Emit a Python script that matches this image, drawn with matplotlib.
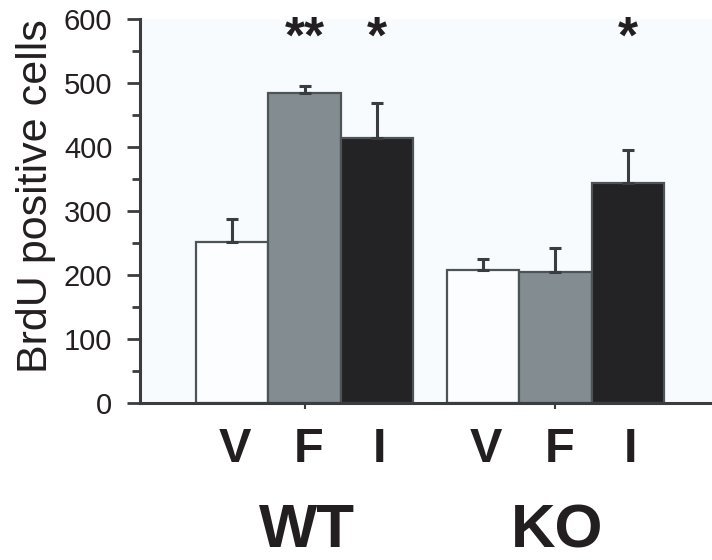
import matplotlib
matplotlib.use("Agg")
import matplotlib.pyplot as plt
import matplotlib.transforms as mtransforms
from matplotlib.ticker import MultipleLocator

plt.rcParams['font.family'] = ['Liberation Sans', 'DejaVu Sans']

groups = ["WT", "KO"]
treatments = ["V", "F", "I"]
values = {"WT": [251, 484, 414], "KO": [208, 205, 343]}
errors = {"WT": [36, 12, 55], "KO": [17, 37, 53]}
stars = {"WT": ["", "**", "*"], "KO": ["", "", "*"]}
colors = ["#fbfdfe", "#838c90", "#232225"]
yticks = [0, 100, 200, 300, 400, 500, 600]

bg = "#f7fbfd"
edge = "#4d5457"
axc = "#3a3d3f"
txt = "#231f20"

W, H = 712, 560
fig = plt.figure(figsize=(W/100, H/100), dpi=100, facecolor="white")
ax = fig.add_axes([140/W, (H-403)/H, 1 - 140/W, (403-19)/H])
ax.set_facecolor(bg)
blend = mtransforms.blended_transform_factory(ax.transData, fig.transFigure)

def fy(py):
    return 1 - py / H

group_offset = [0.0, 3.46]
label_shift = [0.04, 0.06, 0.03]
for g, off in zip(groups, group_offset):
    xs = [off + i for i in range(3)]
    ax.bar(xs, values[g], width=1.0, color=colors, edgecolor=edge, linewidth=1.6, zorder=2)
    ax.errorbar(xs, values[g], yerr=[[0]*3, errors[g]], fmt="none", ecolor=axc,
                elinewidth=2.2, capsize=4.5, capthick=2.2, zorder=3)
    for x, t, sh in zip(xs, treatments, label_shift):
        ax.text(x + sh, fy(461.5), t, transform=blend,
                ha="center", va="baseline", fontsize=35, fontweight="bold", color=txt)
    for x, s in zip(xs, stars[g]):
        if s:
            ax.text(x, fy(53), s, transform=blend,
                    ha="center", va="baseline", fontsize=37, fontweight="bold", color=txt)
    ax.text(off + 1.03, fy(547), g, transform=blend,
            ha="center", va="baseline", fontsize=44.5, fontweight="bold", color=txt)

ax.set_xlim(-1.27, 6.62)
ax.set_ylim(0, 600)
ax.set_yticks(yticks)
ax.set_yticklabels([str(t) for t in yticks], fontsize=21, color=txt)
ax.yaxis.set_minor_locator(MultipleLocator(50))
ax.set_xticks([1.0, 3.46 + 1.0])
ax.set_xticklabels([])
ax.tick_params(axis="x", length=4, width=1.5, color=axc, direction="out")
ax.tick_params(axis="y", which="major", length=9.4, width=2, color=axc, pad=10.5)
ax.tick_params(axis="y", which="minor", length=5.8, width=2, color=axc)
for s in ["top", "right"]:
    ax.spines[s].set_visible(False)
for s in ["left", "bottom"]:
    ax.spines[s].set_color(axc)
    ax.spines[s].set_linewidth(2.2)

fig.text(36/W, fy(196), "BrdU positive cells", rotation=90, ha="center", va="center",
         fontsize=31, color=txt)

fig.savefig("out.png", dpi=100, facecolor="white")
